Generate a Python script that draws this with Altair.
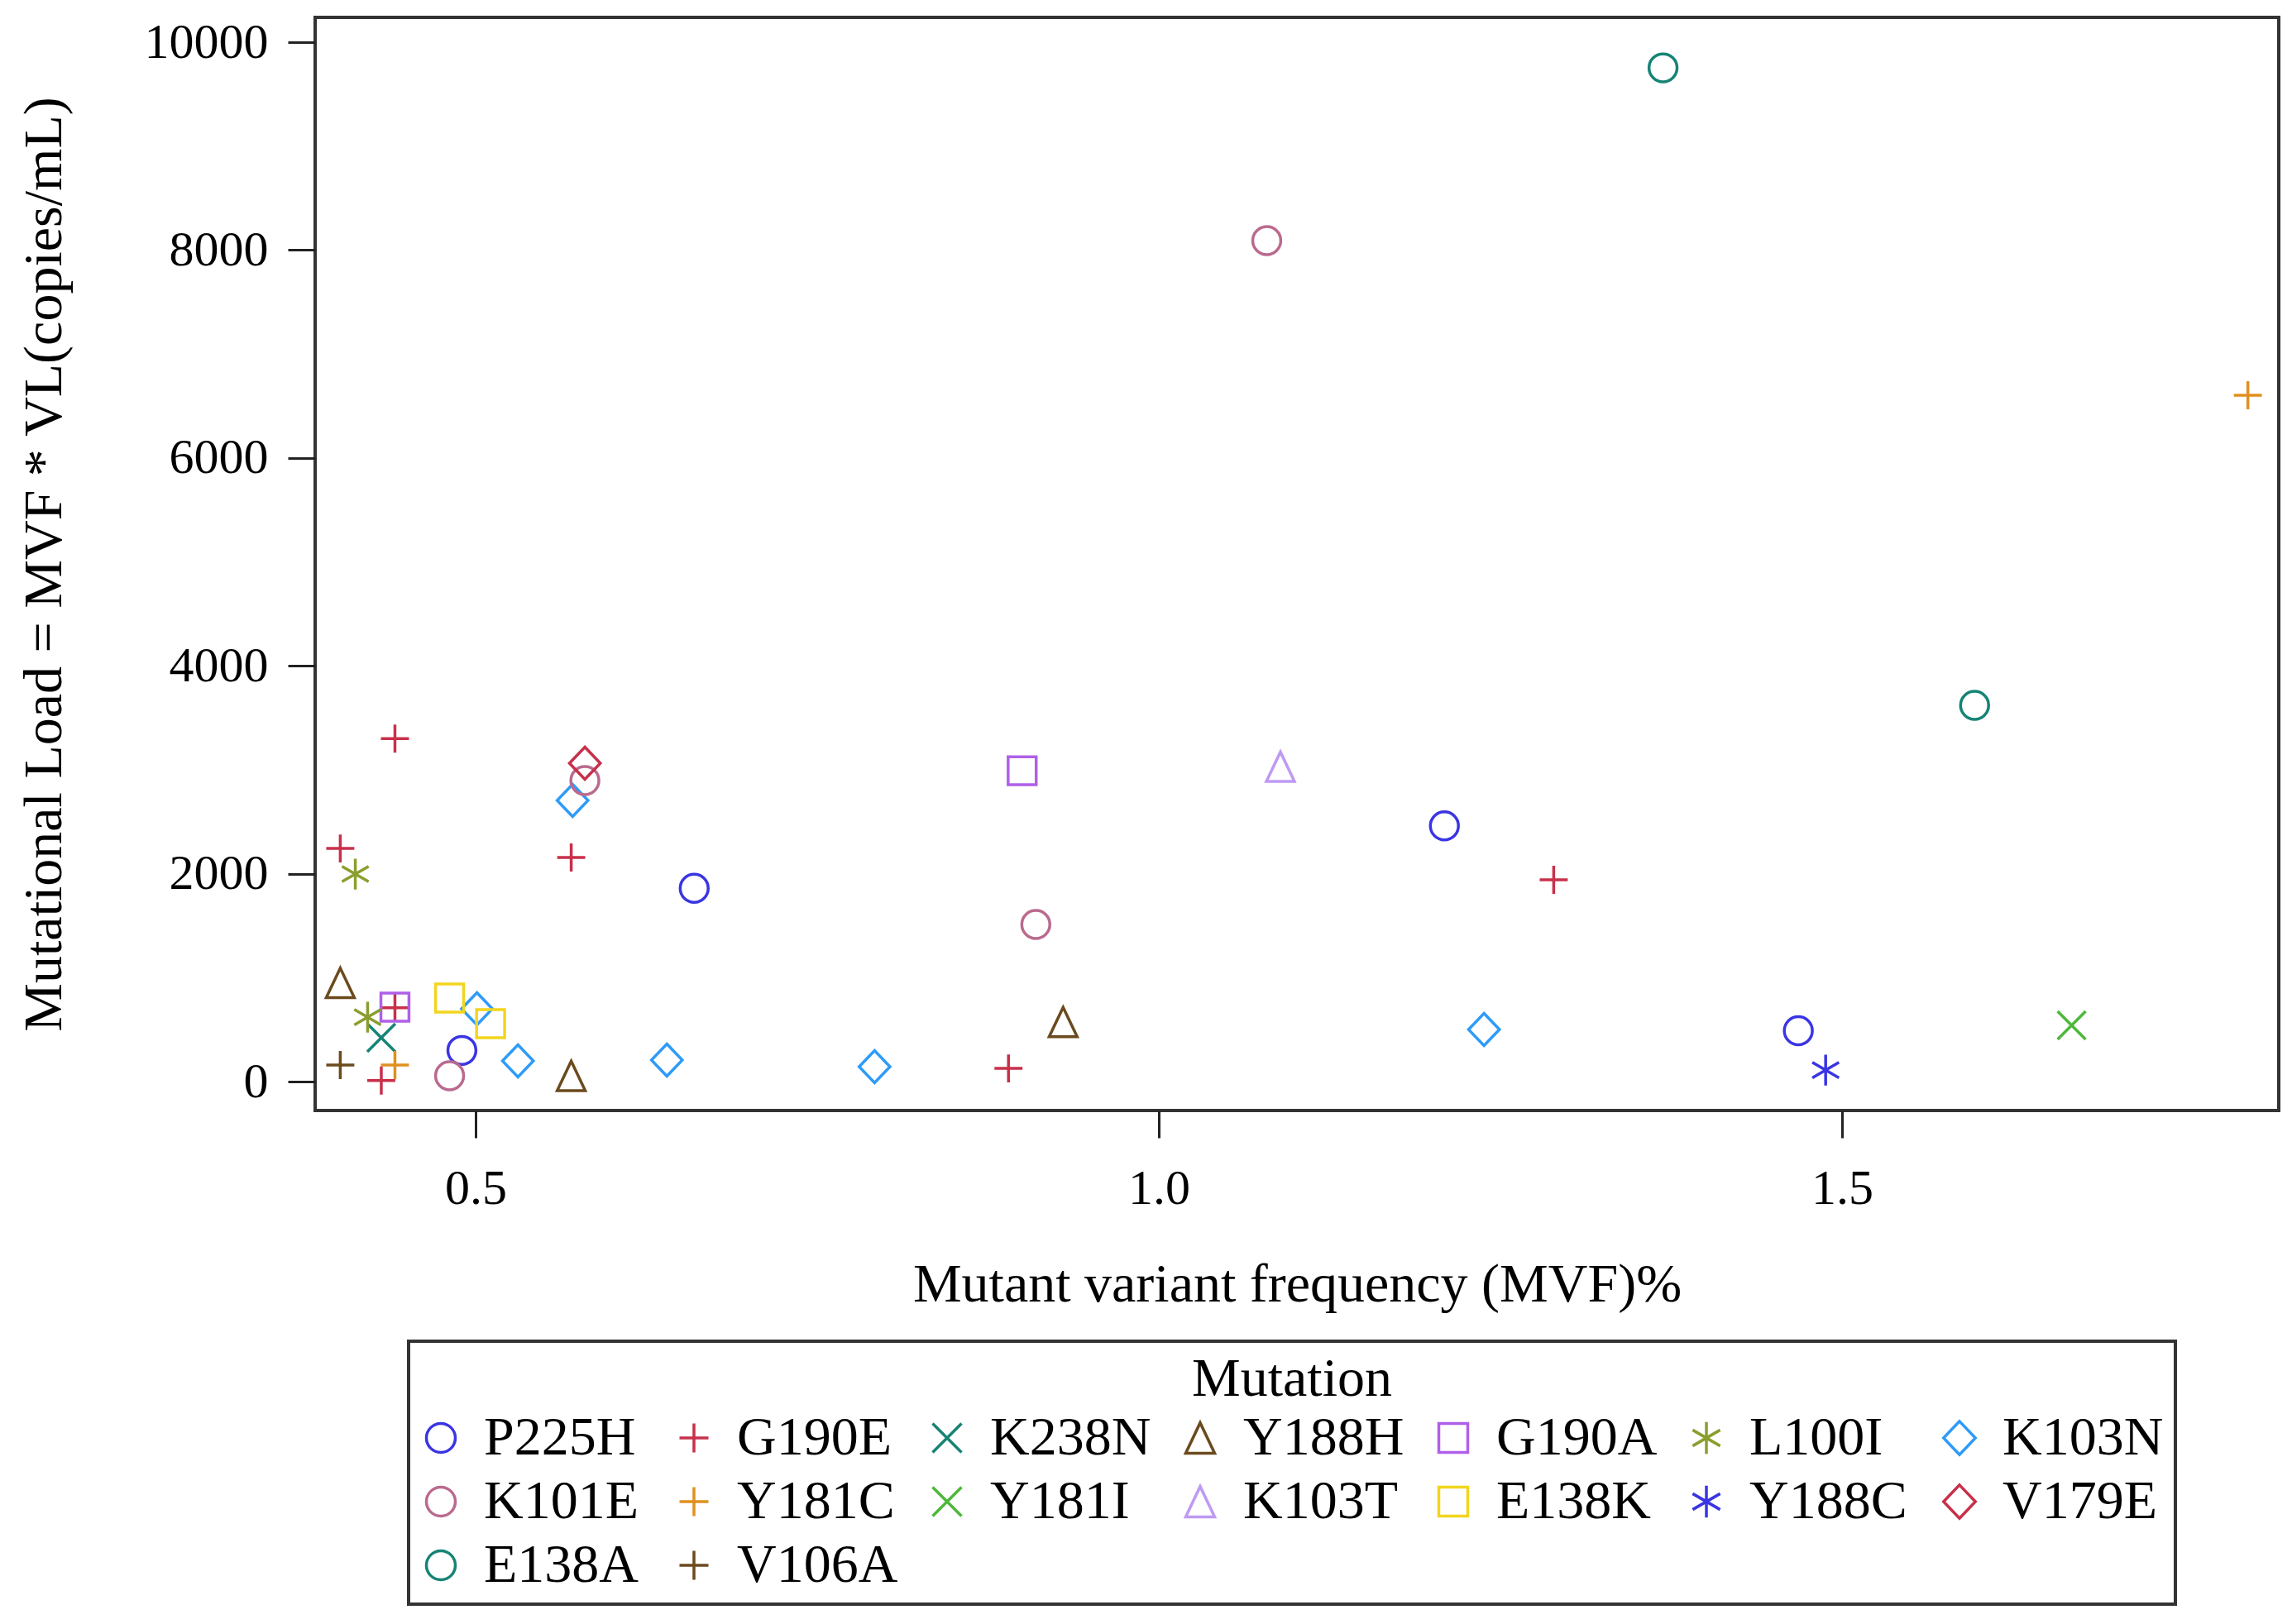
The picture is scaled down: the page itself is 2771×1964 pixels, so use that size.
import altair as alt
import pandas as pd

# legend order (row by row, as in the SAS legend)
mutations = ["P225H", "G190E", "K238N", "Y188H", "G190A", "L100I", "K103N",
             "K101E", "Y181C", "Y181I", "K103T", "E138K", "Y188C", "V179E",
             "E138A", "V106A"]

colors = ["#3A35E3", "#C8304A", "#168475", "#6B4A1E", "#B060E8", "#8A9E2E",
          "#2E9BF8", "#BA6A8E", "#E0901F", "#4DB83A", "#BE9AF5", "#F2D51E",
          "#3A35E3", "#C8304A", "#168475", "#6B4A1E"]

CIRCLE = "circle"
PLUS = "M-1,0L1,0M0,-1L0,1"
XMARK = "M-1,-1L1,1M-1,1L1,-1"
TRIANGLE = "M0,-1.05L-1,1.05L1,1.05Z"
SQUARE = "M-1,-1L1,-1L1,1L-1,1Z"
STAR = "M0,-1.1L0,1.1M-0.95,-0.55L0.95,0.55M-0.95,0.55L0.95,-0.55"
DIAMOND = "M0,-1.15L1.1,0L0,1.15L-1.1,0Z"

shapes = [CIRCLE, PLUS, XMARK, TRIANGLE, SQUARE, STAR, DIAMOND,
          CIRCLE, PLUS, XMARK, TRIANGLE, SQUARE, STAR, DIAMOND,
          CIRCLE, PLUS]

# one entry per plotted point
point_mutation = (["P225H"] * 4 + ["G190E"] * 7 + ["K238N"] + ["Y188H"] * 3 +
                  ["G190A"] * 2 + ["L100I"] * 2 + ["K103N"] * 6 + ["K101E"] * 4 +
                  ["Y181C"] * 2 + ["Y181I"] + ["K103T"] + ["E138K"] * 2 +
                  ["Y188C"] + ["V179E"] + ["E138A"] * 2 + ["V106A"])

point_mvf = [0.490, 0.660, 1.209, 1.468,
             0.401, 0.441, 0.431, 0.570, 0.441, 0.890, 1.289,
             0.431,
             0.401, 0.570, 0.930,
             0.441, 0.900,
             0.412, 0.421,
             0.571, 0.501, 0.531, 0.640, 0.792, 1.238,
             0.580, 0.481, 0.910, 1.079,
             0.441, 1.797,
             1.668,
             1.089,
             0.481, 0.511,
             1.488,
             0.580,
             1.369, 1.597,
             0.401]

point_load = [300, 1860, 2460, 490,
              2243, 3300, 10, 2156, 710, 127, 1941,
              422,
              950, 55, 573,
              716, 2991,
              1997, 620,
              2705, 700, 199, 207, 143, 501,
              2896, 56, 1512, 8091,
              159, 6603,
              541,
              3030,
              804, 557,
              111,
              3063,
              9753, 3620,
              159]

df = pd.DataFrame({"Mutation": point_mutation, "MVF": point_mvf, "Load": point_load})

FONT = "Liberation Serif"

legend = alt.Legend(
    title="Mutation",
    orient="none",
    legendX=113,
    legendY=1601,
    direction="horizontal",
    columns=7,
    gridAlign="all",
    columnPadding=32,
    rowPadding=11,
    symbolSize=1225,
    symbolStrokeWidth=3.5,
    symbolOffset=-8,
    labelOffset=19,
    labelLimit=600,
    labelFont=FONT,
    labelFontSize=66,
    labelColor="black",
    titleFont=FONT,
    titleFontSize=66,
    titleFontWeight="normal",
    titleColor="black",
    titleAnchor="middle",
    titleLimit=2000,
    titlePadding=4,
    padding=14,
    strokeColor="#333333",
    fillColor="white",
)

chart = alt.Chart(df).mark_point(filled=False, size=1150, strokeWidth=3.5, opacity=1).encode(
    x=alt.X("MVF:Q",
            scale=alt.Scale(domain=[0.3826, 1.8196], nice=False, zero=False),
            axis=alt.Axis(title="Mutant variant frequency (MVF)%", values=[0.5, 1.0, 1.5],
                          format=".1f", labelBaseline="alphabetic", labelPadding=79,
                          titleY=230, titleBaseline="alphabetic")),
    y=alt.Y("Load:Q",
            scale=alt.Scale(domain=[-278, 10239], nice=False, zero=False),
            axis=alt.Axis(title="Mutational Load = MVF * VL(copies/mL)",
                          values=[0, 2000, 4000, 6000, 8000, 10000], format="d",
                          labelPadding=24, titleX=-308, titleY=661, titleAngle=270,
                          titleAlign="center", titleBaseline="alphabetic")),
    color=alt.Color("Mutation:N", scale=alt.Scale(domain=mutations, range=colors), legend=legend),
    shape=alt.Shape("Mutation:N", scale=alt.Scale(domain=mutations, range=shapes), legend=legend),
).properties(
    width=2374,
    height=1322,
    autosize=alt.AutoSizeParams(type="none"),
    padding={"left": 373, "top": 13, "right": 8, "bottom": 620},
).configure_view(
    stroke="#333333",
    strokeWidth=4,
).configure_axis(
    grid=False,
    domain=False,
    tickSize=33,
    tickWidth=3,
    tickColor="#222222",
    labelFont=FONT,
    labelFontSize=60,
    labelColor="black",
    titleFont=FONT,
    titleFontSize=66,
    titleFontWeight="normal",
    titleColor="black",
).configure_legend(
    strokeWidth=4,
    symbolFillColor="transparent",
)

chart.save("out.html", embed_options={"renderer": "svg", "actions": False})
